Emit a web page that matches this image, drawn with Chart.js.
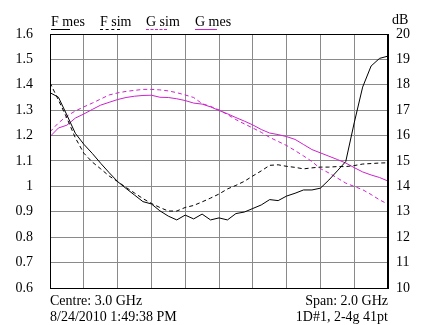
<!DOCTYPE html>
<html>
<head>
<meta charset="utf-8">
<script src="https://cdn.jsdelivr.net/npm/chart.js@4"></script>
<style>
  body { margin: 0; background: #fff; }
  #wrap { position: relative; width: 436px; height: 325px; font-family: "Liberation Serif", "DejaVu Serif", serif; font-size: 14px; color: #000; }
  canvas { position: absolute; left: 0; top: 0; }
  .txt { position: absolute; white-space: nowrap; line-height: 1; }
  .key { position: absolute; height: 0; }
</style>
</head>
<body>
<div id="wrap">
  <canvas id="chart" width="436" height="325"></canvas>
  <div class="txt" style="left:51px;top:15px">F mes</div>
  <div class="key" style="left:51px;top:29px;width:19px;border-top:1px solid #000"></div>
  <div class="txt" style="left:100px;top:15px">F sim</div>
  <div class="key" style="left:100px;top:29px;width:20px;border-top:1px dashed #000"></div>
  <div class="txt" style="left:146px;top:15px">G sim</div>
  <div class="key" style="left:146px;top:29px;width:21px;border-top:1px dashed #cc22cc"></div>
  <div class="txt" style="left:195px;top:15px">G mes</div>
  <div class="key" style="left:195px;top:29px;width:22px;border-top:1px solid #cc22cc"></div>
  <div class="txt" style="left:392px;top:13px">dB</div>
  <div class="txt" style="left:50px;top:294px">Centre: 3.0 GHz</div>
  <div class="txt" style="left:50px;top:310px">8/24/2010 1:49:38 PM</div>
  <div class="txt" style="right:48px;top:294px">Span: 2.0 GHz</div>
  <div class="txt" style="right:48px;top:310px">1D#1, 2-4g 41pt</div>
</div>
<script>
// 41 points, 2-4 GHz
const freqGHz = Array.from({ length: 41 }, (_, i) => 2 + i * 0.05);

const fMes = [1.369, 1.351, 1.281, 1.209, 1.166, 1.130, 1.091, 1.054, 1.019, 0.992,
              0.966, 0.940, 0.931, 0.904, 0.883, 0.868, 0.887, 0.872, 0.891, 0.868,
              0.876, 0.868, 0.893, 0.899, 0.913, 0.927, 0.948, 0.944, 0.962, 0.973,
              0.986, 0.986, 0.993, 1.025, 1.061, 1.098, 1.250, 1.391, 1.474, 1.504, 1.513];

const fSim = [1.408, 1.340, 1.269, 1.191, 1.131, 1.096, 1.069, 1.041, 1.019, 0.996,
              0.974, 0.952, 0.933, 0.917, 0.903, 0.903, 0.917, 0.925, 0.939, 0.954,
              0.970, 0.990, 1.004, 1.020, 1.041, 1.061, 1.083, 1.085, 1.079, 1.075,
              1.069, 1.073, 1.076, 1.076, 1.078, 1.078, 1.082, 1.088, 1.090, 1.092, 1.093];

// gain, dB (right axis)
const gSim = [16.15, 16.50, 16.77, 16.97, 17.13, 17.28, 17.44, 17.60, 17.68, 17.74,
              17.78, 17.82, 17.82, 17.80, 17.76, 17.69, 17.60, 17.50, 17.26, 17.15,
              17.01, 16.83, 16.63, 16.46, 16.30, 16.13, 15.93, 15.77, 15.61, 15.41,
              15.20, 14.98, 14.70, 14.53, 14.33, 14.13, 14.00, 13.87, 13.68, 13.47, 13.30];

const gMes = [15.96, 16.30, 16.41, 16.69, 16.85, 17.03, 17.20, 17.31, 17.42, 17.50,
              17.55, 17.58, 17.59, 17.51, 17.50, 17.45, 17.38, 17.28, 17.24, 17.13,
              16.99, 16.86, 16.71, 16.57, 16.42, 16.24, 16.10, 16.04, 15.96, 15.85,
              15.65, 15.45, 15.32, 15.19, 15.06, 14.92, 14.74, 14.57, 14.45, 14.35, 14.21];

const leftTicks = [0.6, 0.7, 0.8, 0.9, 1, 1.1, 1.2, 1.3, 1.4, 1.5, 1.6];
const rightTicks = [10, 11, 12, 13, 14, 15, 16, 17, 18, 19, 20];

const MAGENTA = '#cc22cc';
const GRID = '#8a8a8a';
const tickFont = { family: '"Liberation Serif", serif', size: 14 };

const pts = arr => arr.map((v, i) => ({ x: freqGHz[i], y: v }));

// black frame round the plot area
const frame = {
  id: 'frame',
  afterDatasetsDraw(chart) {
    const a = chart.chartArea, c = chart.ctx;
    c.save();
    c.strokeStyle = '#000';
    c.lineWidth = 1;
    c.strokeRect(Math.round(a.left) + 0.5, Math.round(a.top) + 0.5,
                 Math.round(a.right - a.left) - 1, Math.round(a.bottom - a.top));
    c.restore();
  }
};

new Chart(document.getElementById('chart'), {
  type: 'line',
  data: {
    datasets: [
      { label: 'F mes', data: pts(fMes), yAxisID: 'y', borderColor: '#000', borderWidth: 1 },
      { label: 'F sim', data: pts(fSim), yAxisID: 'y', borderColor: '#000', borderWidth: 1, borderDash: [4, 3] },
      { label: 'G sim', data: pts(gSim), yAxisID: 'y2', borderColor: MAGENTA, borderWidth: 1, borderDash: [4, 3] },
      { label: 'G mes', data: pts(gMes), yAxisID: 'y2', borderColor: MAGENTA, borderWidth: 1 }
    ]
  },
  options: {
    responsive: false,
    animation: false,
    devicePixelRatio: 1,
    layout: { padding: { top: 34, bottom: 37, left: 0, right: 0 } },
    elements: { point: { radius: 0 }, line: { tension: 0 } },
    plugins: { legend: { display: false }, tooltip: { enabled: false } },
    scales: {
      x: {
        type: 'linear', min: 2, max: 4,
        ticks: { display: false, stepSize: 0.2 },
        grid: { color: GRID, drawTicks: false },
        border: { color: '#000' },
        afterFit: s => { s.height = 0; }
      },
      y: {
        position: 'left', min: 0.6, max: 1.6,
        afterBuildTicks: s => { s.ticks = leftTicks.map(v => ({ value: v })); },
        ticks: { color: '#000', font: tickFont, padding: 17, callback: v => String(Math.round(v * 10) / 10) },
        grid: { color: GRID, drawTicks: false },
        border: { color: '#000' },
        afterFit: s => { s.width = 50; }
      },
      y2: {
        position: 'right', min: 10, max: 20,
        afterBuildTicks: s => { s.ticks = rightTicks.map(v => ({ value: v })); },
        ticks: { color: '#000', font: tickFont, padding: 8 },
        grid: { display: false, drawTicks: false },
        border: { color: '#000' },
        afterFit: s => { s.width = 48; }
      }
    }
  },
  plugins: [frame]
});
</script>
</body>
</html>
